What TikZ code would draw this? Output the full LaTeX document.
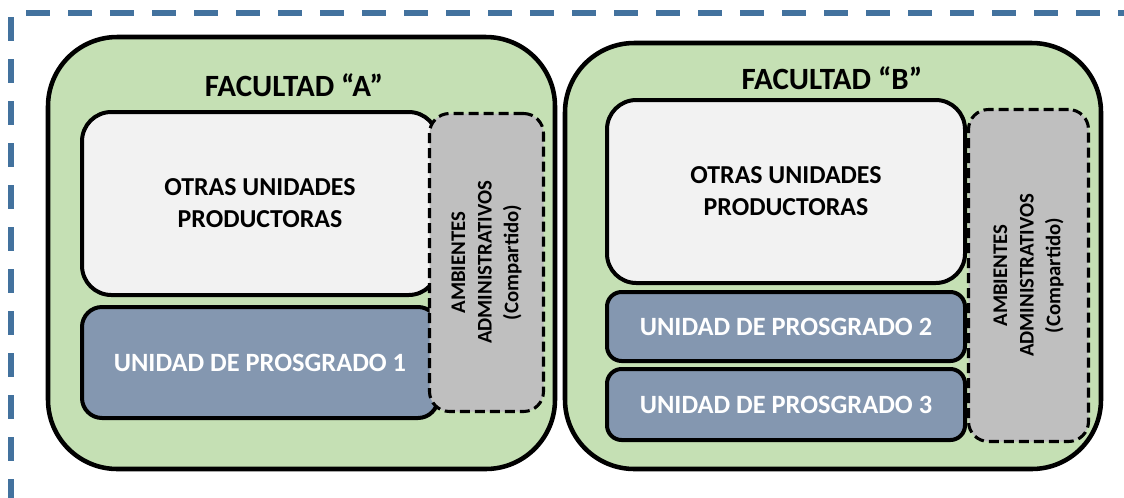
\documentclass[tikz,border=0pt]{standalone}
\usepackage{fontspec}
\setmainfont{Carlito}
\definecolor{facgreen}{HTML}{C5E0B4}
\definecolor{otrasfill}{HTML}{F2F2F2}
\definecolor{unifill}{HTML}{8497B0}
\definecolor{ambfill}{HTML}{BFBFBF}
\definecolor{framecol}{HTML}{43729E}
\begin{document}
\begin{tikzpicture}[x=0.75pt,y=-0.75pt,
  every node/.style={inner sep=0pt, outer sep=0pt},
  frameline/.style={draw=framecol, line width=4.5pt, dash pattern=on 18pt off 13.5pt},
  facbox/.style={draw=black, line width=3.4pt, fill=facgreen, rounded corners=52pt},
  otrasbox/.style={draw=black, line width=3pt, fill=otrasfill, rounded corners=22pt,
    align=center, font=\bfseries\fontsize{19.4}{24}\selectfont},
  unibox/.style={draw=black, line width=3pt, fill=unifill, text=white,
    align=center, font=\bfseries\fontsize{19.8}{24}\selectfont},
  ambbox/.style={draw=black, line width=2.3pt, fill=ambfill, rounded corners=15pt,
    dash pattern=on 7.5pt off 3.75pt},
  ambtext/.style={rotate=90, align=center, font=\bfseries\fontsize{15.6}{20}\selectfont},
  factitle/.style={font=\bfseries\fontsize{23.2}{28}\selectfont}]
\useasboundingbox (0,0) rectangle (1124,497);
% outer dashed frame
\coordinate (ftopA) at (26,13);
\coordinate (ftopB) at (1140,13);
\coordinate (fleftA) at (11,17);
\coordinate (fleftB) at (11,510);
\draw[frameline] (ftopA) -- (ftopB);
\draw[frameline] (fleftA) -- (fleftB);
% Facultad A
\node[facbox, minimum width=380.25pt, minimum height=324pt] (facA) at (301.5,253) {};
\node[factitle] (titA) at (294,85) {FACULTAD “A”};
\node[otrasbox, minimum width=267pt, minimum height=137.25pt] (otrasA) at (260,203.5) {OTRAS UNIDADES\\PRODUCTORAS};
\node[unibox, rounded corners=15pt, minimum width=267pt, minimum height=83.25pt] (uniA) at (260,362.5) {UNIDAD DE PROSGRADO 1};
\node[ambbox, minimum width=85.5pt, minimum height=223.5pt] (ambA) at (486.5,262.5) {};
\node[ambtext] (ambAtxt) at (ambA.center) {AMBIENTES\\ADMINISTRATIVOS\\(Compartido)};
% Facultad B
\node[facbox, minimum width=402pt, minimum height=319.5pt] (facB) at (833,256) {};
\node[factitle] (titB) at (832,78) {FACULTAD “B”};
\node[otrasbox, minimum width=268.5pt, minimum height=137.25pt] (otrasB) at (786,191.5) {OTRAS UNIDADES\\PRODUCTORAS};
\node[unibox, rounded corners=11pt, minimum width=268.5pt, minimum height=51.75pt] (uniB2) at (786,326.5) {UNIDAD DE PROSGRADO 2};
\node[unibox, rounded corners=11pt, minimum width=268.5pt, minimum height=53.25pt] (uniB3) at (786,404.5) {UNIDAD DE PROSGRADO 3};
\node[ambbox, minimum width=90pt, minimum height=249pt] (ambB) at (1028.5,275.5) {};
\node[ambtext] (ambBtxt) at (ambB.center) {AMBIENTES\\ADMINISTRATIVOS\\(Compartido)};
\end{tikzpicture}
\end{document}
